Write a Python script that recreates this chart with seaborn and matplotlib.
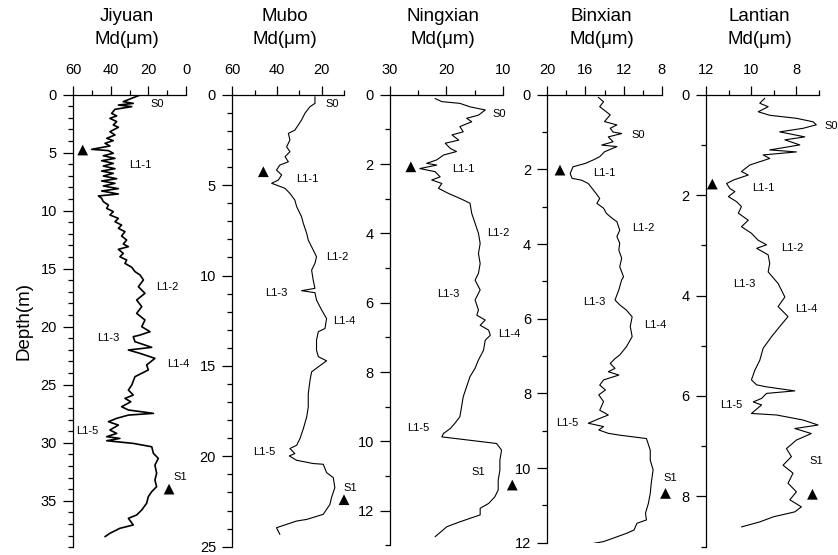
import matplotlib
matplotlib.use("Agg")
import matplotlib.pyplot as plt
import seaborn as sns
import pandas as pd
from matplotlib.ticker import MultipleLocator

# ---------------- grain-size profiles: depth (m) and median grain size Md (um) ----------------
jiyuan_depth = [0.03, 0.31, 0.6, 0.75, 0.89, 1.03, 1.26, 1.61, 1.83, 2.04, 2.32, 2.61, 2.81, 3.19,
                3.47, 3.76, 3.96, 4.19, 4.42, 4.71, 4.82, 5.05, 5.26, 5.49, 5.69, 5.92, 6.15, 6.38,
                6.58, 6.78, 7.01, 7.24, 7.44, 7.64, 7.87, 8.1, 8.3, 8.56, 8.73, 8.93, 9.22, 9.51,
                9.8, 10.08, 10.37, 10.66, 10.95, 11.24, 11.52, 11.81, 12.18, 12.53, 12.87, 13.1,
                13.33, 13.68, 13.97, 14.25, 14.54, 14.88, 15.25, 15.54,
                15.97, 16.55, 17.12, 17.7, 18.27, 18.85, 19.42, 20.0, 20.43,
                20.72, 20.86, 21.29, 21.78, 22.01, 22.3, 22.73, 23.3, 23.73, 24.31, 25.03, 25.46,
                25.89, 26.18, 26.47, 26.9, 27.18, 27.47, 27.62, 27.9, 28.19, 28.48, 28.91, 29.2,
                29.48, 29.63, 29.83, 30.06, 30.35, 30.92, 31.35, 31.93, 32.64, 33.22, 33.79, 34.22,
                34.65, 35.22, 35.8, 36.23, 36.52, 37.09, 37.38, 37.81, 38.1]
jiyuan_md = [24.4, 28.8, 33.3, 28.0, 35.9, 28.8, 37.7, 39.5, 36.8, 40.4, 36.8, 38.6, 35.9, 40.4,
             37.7, 42.1, 38.6, 43.0, 40.4, 50.1, 41.2, 38.6, 43.9, 37.7, 44.8, 38.6, 43.9, 37.7,
             44.8, 38.6, 43.9, 36.8, 44.8, 37.7, 43.9, 35.9, 44.8, 35.9, 46.5, 44.8, 43.9, 41.2,
             42.1, 38.6, 40.4, 35.9, 37.7, 34.2, 35.9, 32.4, 34.2, 31.5, 33.3, 30.6,
             35.9, 33.3, 35.1, 31.5, 32.4, 28.8, 27.1, 24.4,
             22.6, 25.3, 21.8, 26.2, 23.5, 26.2, 21.8, 23.5, 19.1,
             24.4, 28.0, 27.1, 18.2, 30.6, 24.4, 16.5, 20.9, 20.0, 27.1, 28.8, 30.6,
             28.0, 32.4, 29.3, 34.2, 30.6, 17.3, 30.6, 36.8, 41.2, 35.9, 40.4, 36.8,
             42.1, 35.1, 42.1, 28.0, 18.2, 17.3, 14.7, 16.5, 15.6, 16.5, 15.6, 18.2,
             20.0, 20.9, 23.5, 26.2, 30.6, 28.0, 35.1, 40.4, 43.0]

mubo_depth = [0.11, 0.48, 0.66, 1.03, 1.4, 1.68, 1.96, 2.14, 2.51, 2.88, 3.15, 3.43, 3.71, 3.89, 4.17,
              4.44, 4.72, 4.9, 5.0, 5.18, 5.46, 5.83, 6.19, 6.75, 7.12, 7.67, 8.04, 8.41, 8.96, 9.33,
              9.7, 10.25, 10.71, 10.84, 10.95, 11.36, 11.91, 12.38, 12.93, 13.11, 13.57, 14.13,
              14.49, 14.72, 15.05, 15.33, 15.79, 16.53, 17.27, 17.82, 18.47, 19.02, 19.39, 19.57,
              19.85, 19.98, 20.22, 20.4, 20.44, 20.9, 21.18, 21.73, 22.29, 22.66, 23.21, 23.49,
              23.58, 23.95, 24.32]
mubo_md = [23.0, 23.0, 25.2, 27.5, 29.0, 30.5, 32.0, 34.9, 34.2, 35.7, 34.2, 36.4, 34.9, 38.7, 40.2,
           37.9, 39.4, 42.4, 40.2, 36.4, 34.2, 32.0, 31.2, 29.0, 28.2, 26.7, 26.0, 24.5, 22.3, 23.0,
           24.5, 23.8, 23.0, 29.0, 23.0, 22.3, 20.0, 17.8, 18.5, 21.5, 22.3, 22.3,
           21.5, 17.8, 21.5, 24.5, 25.2, 26.0, 26.0, 26.7, 28.2, 29.7, 31.2, 34.2,
           32.0, 34.5, 31.2, 23.8, 19.3, 17.8, 14.8, 14.1, 15.6, 16.3, 19.3, 26.7,
           31.2, 40.2, 38.7]

ningxian_depth = [0.11, 0.2, 0.25, 0.35, 0.44, 0.59, 0.68, 0.78, 0.92, 1.07, 1.16, 1.31, 1.4, 1.55,
                  1.64, 1.74, 1.88, 1.98, 2.03, 2.13, 2.22, 2.37, 2.46, 2.56, 2.7, 2.85, 2.99, 3.13,
                  3.42, 3.71, 4.0, 4.29, 4.58, 4.87, 5.15, 5.35, 5.63, 5.92, 6.21, 6.36, 6.5, 6.65,
                  6.79, 6.94, 7.08, 7.37, 7.65, 7.89, 8.13, 8.42, 8.71, 9.0, 9.29, 9.48, 9.63, 9.77,
                  9.87, 10.06, 10.25, 10.54, 10.83, 11.12, 11.4, 11.6, 11.79, 11.93, 12.12, 12.22,
                  12.32, 12.46, 12.75]
ningxian_md = [22.0, 20.8, 17.6, 15.8, 13.1, 14.3, 16.4, 15.5, 17.6, 17.0, 19.0, 17.8, 20.2, 19.3,
               18.2, 20.5, 21.7, 23.5, 21.7, 24.7, 22.0, 21.1, 22.6, 20.8, 21.4, 19.6, 17.6, 15.8,
               15.5, 14.9, 14.3, 14.0, 14.3, 14.0, 14.3, 14.9, 14.0, 14.9, 14.3, 14.6, 13.1, 14.0,
               12.5, 12.2, 13.1, 13.4, 14.3, 14.9, 15.8, 16.4, 17.0, 17.3, 17.6, 18.5, 19.3, 20.5,
               20.8, 11.1, 10.2, 10.5, 10.5, 10.8, 10.8, 11.4, 12.5, 14.0, 14.0, 15.8,
               17.6, 19.9, 22.0]

binxian_depth = [0.07, 0.19, 0.32, 0.54, 0.72, 0.81, 0.9, 1.0, 1.04, 1.13, 1.26, 1.35, 1.39, 1.53,
                 1.66, 1.75, 1.84, 1.93, 2.11, 2.24, 2.29, 2.38, 2.51, 2.64, 2.78, 2.91, 3.04, 3.18,
                 3.31, 3.4, 3.63, 3.8, 3.98, 4.16, 4.38, 4.61, 4.88, 4.96, 5.23, 5.5, 5.63, 5.77,
                 5.95, 6.21, 6.48, 6.75, 6.97, 7.07, 7.2, 7.33, 7.42, 7.51, 7.64, 7.78, 7.91, 8.04,
                 8.22, 8.45, 8.58, 8.67, 8.8, 8.89, 8.98, 9.07, 9.12, 9.21, 9.52, 9.79, 10.05, 10.41,
                 10.68, 10.95, 11.21, 11.39, 11.48, 11.66, 11.75, 11.88, 11.97, 12.09]
binxian_md = [14.65, 14.1, 14.5, 13.4, 14.0, 12.7, 13.4, 13.1, 12.2, 13.6, 13.1, 14.3, 12.7, 14.0,
              14.5, 15.2, 16.0, 17.3, 17.6, 17.4, 16.4, 15.7, 15.3, 14.9, 14.5, 14.8, 14.1, 13.8,
              13.2, 12.7, 12.4, 12.7, 12.4, 12.5, 12.2, 12.4, 12.0, 12.2, 12.5, 12.9, 12.4, 11.7,
              11.1, 11.3, 11.1, 11.7, 12.4, 12.9, 13.4, 12.9, 13.6, 12.5, 14.1, 14.5, 13.9, 14.6,
              14.1, 14.5, 13.6, 14.5, 15.7, 14.1, 14.6, 13.6, 12.4, 9.6, 9.2, 9.2, 8.9, 9.1,
              9.2, 9.4, 9.7, 9.6, 10.6, 10.9, 11.7, 13.1, 14.1, 16.7]

lantian_depth = [0.07, 0.17, 0.24, 0.34, 0.41, 0.47, 0.54, 0.6, 0.67, 0.74, 0.84, 0.9, 1.0, 1.1, 1.14,
                 1.2, 1.27, 1.4, 1.53, 1.6, 1.7, 1.77, 1.87, 1.93, 2.03, 2.13, 2.23, 2.36, 2.5, 2.63,
                 2.76, 2.9, 2.99, 3.06, 3.19, 3.36, 3.53, 3.76, 4.03, 4.22, 4.42, 4.62, 4.82, 5.05,
                 5.29, 5.49, 5.68, 5.78, 5.82, 5.9, 5.95, 6.05, 6.12, 6.18, 6.35, 6.38, 6.48, 6.58,
                 6.65, 6.75, 6.88, 7.05, 7.21, 7.38, 7.54, 7.74, 7.91, 8.07, 8.21, 8.31, 8.41, 8.51,
                 8.61]
lantian_md = [9.4, 9.62, 9.25, 9.69, 9.18, 8.0, 7.26, 7.12, 7.71, 8.74, 7.63, 8.51, 7.85, 9.18, 8.0,
              9.47, 9.18, 10.06, 10.43, 10.13, 10.79, 11.09, 10.94, 10.72, 11.01, 10.65, 10.43,
              10.57, 10.13, 10.43, 9.99, 9.69, 9.32, 9.76, 9.25, 9.18, 9.25, 8.81, 8.51, 8.81,
              8.37, 8.74, 9.1, 9.47, 9.62, 9.84, 9.99, 9.76, 9.32, 8.07, 9.32, 9.54, 9.91, 9.54,
              9.99, 8.88, 7.71, 7.04, 8.07, 7.34, 8.0, 8.44, 8.22, 8.59, 8.15, 8.37, 8.0, 8.29,
              7.78, 8.07, 9.03, 9.62, 10.43]

# ---------------- boundary markers (triangles) ----------------
jiyuan_mark_depth, jiyuan_mark_md = [4.77, 34.0], [54.85, 9.0]
mubo_mark_depth, mubo_mark_md = [4.26, 22.4], [46.1, 10.0]
ningxian_mark_depth, ningxian_mark_md = [2.08, 11.26], [26.3, 8.3]
binxian_mark_depth, binxian_mark_md = [2.02, 10.68], [18.67, 7.6]
lantian_mark_depth, lantian_mark_md = [1.78, 7.96], [11.72, 7.29]

# ---------------- stratigraphic unit labels ----------------
unit_names = ["S0", "L1-1", "L1-2", "L1-3", "L1-4", "L1-5", "S1"]
jiyuan_label_md = [18.6, 30.3, 15.6, 47.4, 10.2, 58.4, 6.9]
jiyuan_label_depth = [0.8, 6.06, 16.55, 21.0, 23.2, 29.0, 33.0]
mubo_label_md = [18.1, 31.5, 17.8, 45.4, 14.8, 50.6, 10.3]
mubo_label_depth = [0.53, 4.66, 8.99, 10.98, 12.5, 19.75, 21.77]
ningxian_label_md = [11.76, 19.04, 12.72, 21.6, 10.76, 27.03, 15.5]
ningxian_label_depth = [0.56, 2.15, 4.0, 5.75, 6.9, 9.62, 10.87]
binxian_label_md = [11.14, 15.23, 11.08, 16.22, 9.85, 19.09, 7.82]
binxian_label_depth = [1.08, 2.11, 3.58, 5.56, 6.17, 8.79, 10.26]
lantian_label_md = [6.75, 9.94, 8.69, 10.8, 8.07, 11.38, 7.44]
lantian_label_depth = [0.62, 1.85, 3.06, 3.77, 4.27, 6.18, 7.3]

site_names = ["Jiyuan", "Mubo", "Ningxian", "Binxian", "Lantian"]

sns.set_style("ticks")
plt.rcParams["font.family"] = ["Liberation Sans", "DejaVu Sans"]
plt.rcParams.update({
    "axes.linewidth": 0.9,
    "axes.edgecolor": "black",
    "text.color": "black",
    "axes.labelcolor": "black",
    "xtick.color": "black",
    "ytick.color": "black",
})

W, H = 838, 555
fig = plt.figure(figsize=(W / 100, H / 100), dpi=100)

# panel layout in pixels: left, right, top, bottom
panels = [
    dict(depth=jiyuan_depth, md=jiyuan_md,
         mk=(jiyuan_mark_md, jiyuan_mark_depth), lab=(jiyuan_label_md, jiyuan_label_depth),
         box=(73, 186, 94.7, 547.1), xlim=(60, 0), xmaj=20, xmin=10, ylim=(39, 0), ymaj=5, ymin=1,
         lw=1.2),
    dict(depth=mubo_depth, md=mubo_md,
         mk=(mubo_mark_md, mubo_mark_depth), lab=(mubo_label_md, mubo_label_depth),
         box=(232.3, 344, 94.7, 546.7), xlim=(60, 10), xmaj=20, xmin=10, ylim=(25, 0), ymaj=5, ymin=1,
         lw=0.8),
    dict(depth=ningxian_depth, md=ningxian_md,
         mk=(ningxian_mark_md, ningxian_mark_depth), lab=(ningxian_label_md, ningxian_label_depth),
         box=(390, 502.7, 94.7, 545.4), xlim=(30, 10), xmaj=10, xmin=5, ylim=(13, 0), ymaj=2, ymin=1,
         lw=0.8),
    dict(depth=binxian_depth, md=binxian_md,
         mk=(binxian_mark_md, binxian_mark_depth), lab=(binxian_label_md, binxian_label_depth),
         box=(547.3, 661.7, 94.7, 542.7), xlim=(20, 8), xmaj=4, xmin=2, ylim=(12, 0), ymaj=2, ymin=1,
         lw=0.8),
    dict(depth=lantian_depth, md=lantian_md,
         mk=(lantian_mark_md, lantian_mark_depth), lab=(lantian_label_md, lantian_label_depth),
         box=(706, 819, 94.7, 546.5), xlim=(12, 7), xmaj=2, xmin=1, ylim=(9, 0), ymaj=2, ymin=1,
         lw=0.8),
]

for name, p in zip(site_names, panels):
    l, r, t, b = p["box"]
    ax = fig.add_axes([l / W, 1 - b / H, (r - l) / W, (b - t) / H])
    df = pd.DataFrame({"depth": p["depth"], "md": p["md"]})
    sns.lineplot(data=df, x="md", y="depth", orient="y", sort=False, estimator=None,
                 color="black", linewidth=p["lw"], ax=ax)
    mk = pd.DataFrame({"md": p["mk"][0], "depth": p["mk"][1]})
    sns.scatterplot(data=mk, x="md", y="depth", marker="^", s=60, color="black",
                    edgecolor="none", ax=ax, clip_on=False, zorder=5)
    for unit, lx, ly in zip(unit_names, p["lab"][0], p["lab"][1]):
        ax.text(lx, ly, unit, ha="left", va="center", fontsize=8, clip_on=False)

    ax.set_xlim(*p["xlim"])
    ax.set_ylim(*p["ylim"])
    ax.xaxis.set_major_locator(MultipleLocator(p["xmaj"]))
    ax.xaxis.set_minor_locator(MultipleLocator(p["xmin"]))
    ax.yaxis.set_major_locator(MultipleLocator(p["ymaj"]))
    ax.yaxis.set_minor_locator(MultipleLocator(p["ymin"]))
    ax.xaxis.tick_top()
    for s in ("right", "bottom"):
        ax.spines[s].set_visible(False)
    ax.tick_params(axis="x", which="major", direction="out", length=6.5, width=0.9,
                   labelsize=10.5, pad=6.5, color="black", labelcolor="black")
    ax.tick_params(axis="y", which="major", direction="out", length=7.2, width=0.9,
                   labelsize=10.5, pad=4.5, color="black", labelcolor="black")
    ax.tick_params(axis="both", which="minor", direction="out", length=3.6, width=0.9,
                   color="black")
    ax.set_xlabel("")
    ax.set_ylabel("")

    cx = (l + r) / 2 / W - 3 / W
    fig.text(cx, 1 - 21 / H, name, ha="center", va="baseline", fontsize=13.5)
    fig.text(cx, 1 - 44.5 / H, "Md(μm)", ha="center", va="baseline", fontsize=13.5)

fig.text(24 / W, 1 - 321 / H, "Depth(m)", rotation=90, ha="center", va="center", fontsize=13.5)

fig.savefig("out.png", dpi=100)
